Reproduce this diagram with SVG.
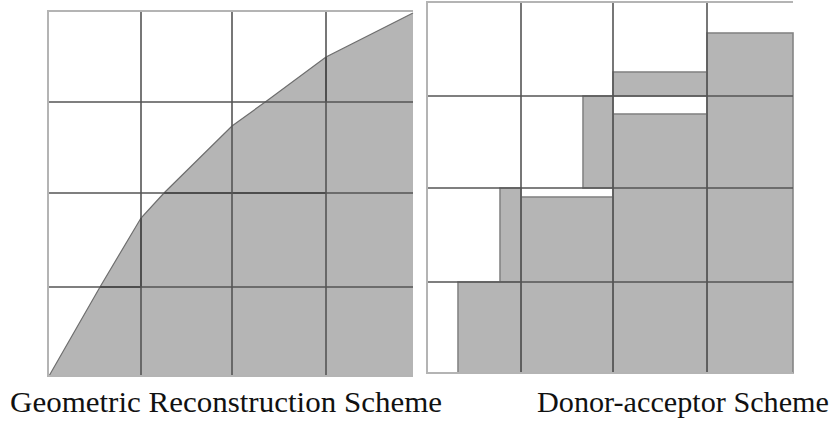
<svg xmlns="http://www.w3.org/2000/svg" width="832" height="423" viewBox="0 0 832 423">
  <style>
    .grid { stroke: #555; stroke-width: 1.6; fill: none; }
    .edge { stroke: #b4b4b4; stroke-width: 2; fill: none; }
    .fluid { fill: #b5b5b5; }
    .cell { fill: #b5b5b5; stroke: #858585; stroke-width: 1.6; }
    .iface { fill: none; stroke: #6e6e6e; stroke-width: 1.2; }
    .recon { stroke: #3a3a3a; stroke-width: 2; fill: none; }
  </style>
  <rect width="832" height="423" fill="#fff"/>

  <!-- Left: piecewise-linear interface reconstruction -->
  <g id="geometric-panel">
    <polygon class="fluid" points="49,376 100,287 141,218 164,193 232,126 268,100 326,57 413,13 413,376"/>
    <polyline class="iface" points="49,376 100,287 141,218 164,193 232,126 268,100 326,57 413,13"/>
    <g class="recon">
      <line x1="100" y1="287" x2="141" y2="287"/>
      <line x1="141" y1="218" x2="141" y2="287"/>
      <line x1="164" y1="193" x2="326" y2="193"/>
      <line x1="326" y1="57" x2="326" y2="102"/>
    </g>
    <g class="grid">
      <line x1="141" y1="11" x2="141" y2="376"/>
      <line x1="232" y1="11" x2="232" y2="376"/>
      <line x1="326" y1="11" x2="326" y2="376"/>
      <line x1="48" y1="102" x2="413" y2="102"/>
      <line x1="48" y1="193" x2="413" y2="193"/>
      <line x1="48" y1="287" x2="413" y2="287"/>
    </g>
    <polyline class="edge" points="413,11 48,11 48,376 413,376"/>
  </g>

  <!-- Right: donor-acceptor cell fluxes -->
  <g id="donor-acceptor-panel">
    <rect class="cell" x="707" y="33" width="86" height="340"/>
    <rect class="cell" x="613" y="72" width="94" height="24"/>
    <rect class="cell" x="613" y="114" width="94" height="259"/>
    <rect class="cell" x="583" y="96" width="30" height="92"/>
    <rect class="cell" x="521" y="197" width="92" height="176"/>
    <rect class="cell" x="500" y="188" width="21" height="94"/>
    <rect class="cell" x="458" y="282" width="63" height="91"/>
    <g class="grid">
      <line x1="521" y1="2" x2="521" y2="373"/>
      <line x1="613" y1="2" x2="613" y2="373"/>
      <line x1="707" y1="2" x2="707" y2="373"/>
      <line x1="427" y1="96" x2="793" y2="96"/>
      <line x1="427" y1="188" x2="793" y2="188"/>
      <line x1="427" y1="282" x2="793" y2="282"/>
    </g>
    <polyline class="edge" points="793,2 427,2 427,373 793,373"/>
  </g>

  <g id="captions" font-family="'Liberation Serif', 'DejaVu Serif', serif" font-size="29" fill="#111">
    <text x="10" y="412" textLength="432" lengthAdjust="spacingAndGlyphs">Geometric Reconstruction Scheme</text>
    <text x="537" y="412" textLength="292" lengthAdjust="spacingAndGlyphs">Donor-acceptor Scheme</text>
  </g>
</svg>
